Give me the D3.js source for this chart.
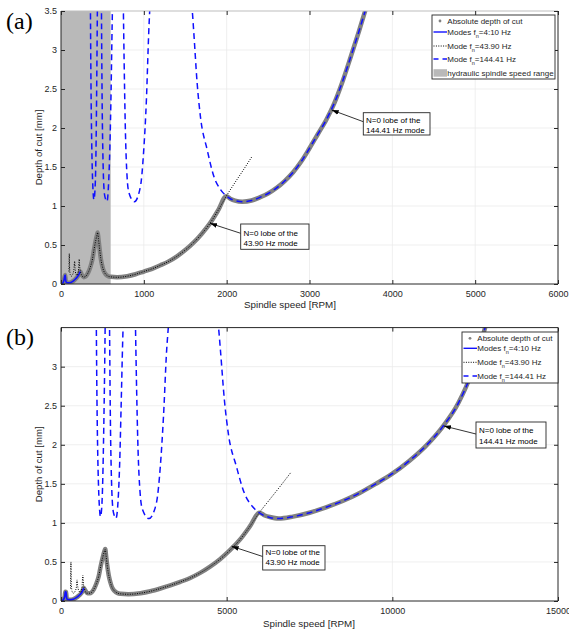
<!DOCTYPE html>
<html><head><meta charset="utf-8">
<script src="https://cdn.jsdelivr.net/npm/d3@7"></script>
<style>
body{margin:0;background:#fff}
svg{display:block}
text{font-family:"Liberation Sans",Arial,Helvetica,sans-serif}
</style>
</head><body>
<svg id="c" width="569" height="629"></svg>
<script>
// ---------------- DATA (spindle speed [RPM], depth of cut [mm]) ----------------
const yTicksA = [0,0.5,1,1.5,2,2.5,3,3.5];
const yTicksB = [0,0.5,1,1.5,2,2.5,3];
const xTicksA = [0,1000,2000,3000,4000,5000,6000];
const xTicksB = [0,5000,10000,15000];
const hydraulicRange = [0,600];
const legendLabels = ["Absolute depth of cut","Modes f|n|=4:10 Hz","Mode f|n|=43.90 Hz","Mode f|n|=144.41 Hz","hydraulic spindle speed range"];
const noteA = ["N=0 lobe of the","43.90 Hz mode"];
const noteB = ["N=0 lobe of the","144.41 Hz mode"];

// Panel (a)
const absA = [[0,0],[20,0.01],[38,0.06],[45,0.1],[50,0.115],[56,0.05],[65,0.02],[90,0.015],[120,0.02],[150,0.04],[180,0.07],[210,0.11],[233,0.16],[250,0.12],[273,0.088],[300,0.1],[330,0.15],[355,0.22],[380,0.32],[400,0.45],[420,0.56],[435,0.63],[443,0.66],[452,0.58],[467,0.44],[480,0.33],[496,0.24],[515,0.17],[536,0.13],[570,0.1],[600,0.092],[677,0.086],[800,0.1],[900,0.125],[1000,0.16],[1100,0.195],[1200,0.24],[1300,0.29],[1400,0.355],[1500,0.435],[1600,0.53],[1700,0.645],[1800,0.78],[1900,0.95],[1995,1.125],[2050,1.09],[2100,1.07],[2189,1.055],[2300,1.07],[2400,1.11],[2500,1.16],[2600,1.23],[2700,1.32],[2800,1.43],[2900,1.57],[3000,1.74],[3100,1.92],[3200,2.1],[3300,2.32],[3400,2.6],[3500,2.92],[3600,3.25],[3700,3.6]];
const bluA = [[0,0],[20,0.01],[38,0.06],[45,0.1],[50,0.115],[56,0.05],[65,0.02],[90,0.015],[120,0.02],[150,0.04],[180,0.07],[210,0.11],[233,0.16]];
const dotA = [[96,0.16],[100,0.39],[104,0.2],[112,0.12],[125,0.1],[140,0.12],[155,0.18],[165,0.29],[170,0.2],[180,0.13],[195,0.11],[210,0.16],[220,0.32],[226,0.22],[240,0.14],[255,0.1],[273,0.088],[300,0.1],[330,0.15],[355,0.22],[380,0.32],[400,0.45],[420,0.56],[435,0.63],[443,0.66],[452,0.58],[467,0.44],[480,0.33],[496,0.24],[515,0.17],[536,0.13],[570,0.1],[600,0.092],[677,0.086],[800,0.1],[900,0.125],[1000,0.16],[1100,0.195],[1200,0.24],[1300,0.29],[1400,0.355],[1500,0.435],[1600,0.53],[1700,0.645],[1800,0.78],[1900,0.95],[1995,1.125],[2100,1.3],[2200,1.46],[2309,1.64]];
const lobesA = [
  [[355,3.6],[360,2.8],[368,2.0],[378,1.45],[388,1.17],[397,1.08],[410,1.2],[420,1.55],[428,2.2],[434,2.9],[440,3.6]],
  [[488,3.6],[493,2.8],[498,2.2],[505,1.7],[515,1.3],[530,1.12],[556,1.06],[575,1.3],[590,1.75],[605,2.5],[617,3.3],[622,3.6]],
  [[752,3.6],[757,3.22],[778,1.94],[798,1.37],[820,1.17],[886,1.055],[959,1.25],[999,1.72],[1031,2.36],[1059,3.22],[1071,3.51],[1075,3.6]],
  [[1575,3.6],[1584,3.51],[1604,3.21],[1644,2.57],[1684,2.14],[1765,1.72],[1845,1.38],[1926,1.21],[1995,1.13],[2050,1.09],[2100,1.07],[2189,1.055],[2300,1.07],[2400,1.11],[2500,1.16],[2600,1.23],[2700,1.32],[2800,1.43],[2900,1.57],[3000,1.74],[3100,1.92],[3200,2.1],[3300,2.32],[3400,2.6],[3500,2.92],[3600,3.25],[3700,3.6]]
];

// Panel (b)
const absB = [[0,0],[60,0.01],[114,0.06],[130,0.12],[150,0.115],[160,0.08],[170,0.04],[190,0.02],[270,0.015],[360,0.02],[450,0.04],[540,0.07],[630,0.11],[690,0.165],[740,0.13],[800,0.1],[870,0.1],[990,0.15],[1065,0.22],[1140,0.32],[1200,0.45],[1260,0.56],[1305,0.63],[1335,0.665],[1360,0.58],[1400,0.44],[1440,0.33],[1490,0.24],[1545,0.17],[1610,0.13],[1710,0.1],[1800,0.092],[2030,0.086],[2400,0.1],[2700,0.125],[3000,0.16],[3300,0.2],[3600,0.245],[3900,0.295],[4200,0.36],[4500,0.44],[4800,0.535],[5100,0.65],[5400,0.785],[5700,0.955],[5985,1.13],[6150,1.095],[6300,1.075],[6567,1.055],[7000,1.08],[7500,1.13],[8000,1.2],[8500,1.28],[9000,1.38],[9500,1.5],[10000,1.63],[10500,1.79],[11000,1.98],[11500,2.22],[12000,2.54],[12400,2.93],[12600,3.2],[12800,3.5],[12900,3.65]];
const bluB = [[0,0],[60,0.01],[114,0.06],[130,0.12],[150,0.115],[160,0.08],[170,0.04],[190,0.02],[270,0.015],[360,0.02],[450,0.04],[540,0.07],[630,0.11],[690,0.165]];
const dotB = [[288,0.16],[300,0.5],[312,0.22],[336,0.12],[375,0.1],[420,0.12],[465,0.18],[484,0.27],[500,0.2],[540,0.13],[585,0.11],[630,0.16],[660,0.33],[678,0.22],[720,0.14],[765,0.1],[800,0.1],[870,0.1],[990,0.15],[1065,0.22],[1140,0.32],[1200,0.45],[1260,0.56],[1305,0.63],[1335,0.665],[1360,0.58],[1400,0.44],[1440,0.33],[1490,0.24],[1545,0.17],[1610,0.13],[1710,0.1],[1800,0.092],[2030,0.086],[2400,0.1],[2700,0.125],[3000,0.16],[3300,0.2],[3600,0.245],[3900,0.295],[4200,0.36],[4500,0.44],[4800,0.535],[5100,0.65],[5400,0.785],[5700,0.955],[5985,1.13],[6300,1.3],[6600,1.46],[6927,1.64]];
const lobesB = [
  [[1065,3.6],[1080,2.8],[1104,2.0],[1134,1.45],[1164,1.17],[1191,1.08],[1230,1.2],[1260,1.55],[1290,2.2],[1315,2.9],[1335,3.6]],
  [[1464,3.6],[1479,2.8],[1494,2.2],[1515,1.7],[1545,1.3],[1590,1.12],[1660,1.06],[1725,1.3],[1770,1.75],[1815,2.5],[1860,3.3],[1880,3.6]],
  [[2245,3.6],[2260,3.22],[2325,1.94],[2390,1.37],[2460,1.17],[2655,1.055],[2877,1.25],[2997,1.72],[3093,2.36],[3190,3.22],[3240,3.51],[3255,3.6]],
  [[4725,3.6],[4752,3.51],[4812,3.21],[4932,2.57],[5052,2.14],[5295,1.72],[5535,1.38],[5778,1.21],[5985,1.13],[6150,1.09],[6300,1.07],[6567,1.055],[7000,1.08],[7500,1.13],[8000,1.2],[8500,1.28],[9000,1.38],[9500,1.5],[10000,1.63],[10500,1.79],[11000,1.98],[11500,2.22],[12000,2.54],[12400,2.93],[12600,3.2],[12800,3.5],[12900,3.65]]
];

// ---------------- DRAWING ----------------
const svg = d3.select('#c');
const defs = svg.append('defs');
defs.append('marker').attr('id','arr').attr('viewBox','0 0 10 10').attr('refX',10).attr('refY',5)
  .attr('markerWidth',7).attr('markerHeight',7).attr('markerUnits','userSpaceOnUse').attr('orient','auto')
  .append('path').attr('d','M0,1.5 L10,5 L0,8.5 Z').attr('fill','#000');

const BLUE = '#1010ff';
const TXT = '#262626';

const panels = [
  {id:'a', letter:'(a)', letterY:29, left:61, right:558, top:11, bottom:284, xMax:6000, xTicks:xTicksA, yTicks:yTicksA,
   abs:absA, blu:bluA, dot:dotA, lobes:lobesA, band:hydraulicRange, topBorder:'#bdbdbd',
   legend:{x:432, y:15, w:123, h:64, rows:[21,32,46,59,73], n:5},
   note:{lines:noteA, box:[240.7,224,68.3,25.3], tx:243.5, ty:[235.5,245.5], from:[240.7,233.3], to:[210,223.3]},
   note2:{lines:noteB, box:[363.3,112.7,66.7,22.3], tx:366, ty:[123.3,132.8], from:[363.3,121.7], to:[331.7,110]},
   xlabX:290, xlabY:307.5},
  {id:'b', letter:'(b)', letterY:345, left:61, right:558, top:327.6, bottom:601, xMax:15000, xTicks:xTicksB, yTicks:yTicksB,
   abs:absB, blu:bluB, dot:dotB, lobes:lobesB, band:null, topBorder:TXT,
   legend:{x:462, y:332, w:96, h:51, rows:[338.3,348.3,362.3,376], n:4},
   note:{lines:noteA, box:[262.7,545.7,62.3,24.3], tx:265.5, ty:[555,565.3], from:[262.7,556.5], to:[231.7,546.3]},
   note2:{lines:noteB, box:[476,422,70,26], tx:479, ty:[432.5,443.5], from:[476,434], to:[444,426]},
   xlabX:309, xlabY:626.5}
];

panels.forEach(p => {
  const g = svg.append('g');
  const x = d3.scaleLinear().domain([0,p.xMax]).range([p.left,p.right]);
  const y = d3.scaleLinear().domain([0,3.5]).range([p.bottom,p.top]);

  defs.append('clipPath').attr('id','clip'+p.id).append('rect')
    .attr('x',p.left).attr('y',p.top).attr('width',p.right-p.left).attr('height',p.bottom-p.top);

  // grid
  g.append('g').selectAll('line').data(p.xTicks.filter(v=>v>0 && v<p.xMax)).join('line')
    .attr('x1',d=>x(d)).attr('x2',d=>x(d)).attr('y1',p.top).attr('y2',p.bottom)
    .attr('stroke','#ebebeb').attr('stroke-width',0.8);
  g.append('g').selectAll('line').data(p.yTicks.filter(v=>v>0 && v<3.5)).join('line')
    .attr('x1',p.left).attr('x2',p.right).attr('y1',d=>y(d)).attr('y2',d=>y(d))
    .attr('stroke','#ebebeb').attr('stroke-width',0.8);

  const plot = g.append('g').attr('clip-path',`url(#clip${p.id})`);
  if (p.band) {
    plot.append('rect').attr('x',x(p.band[0])).attr('width',x(p.band[1])-x(p.band[0]))
      .attr('y',p.top).attr('height',p.bottom-p.top).attr('fill','#b9b9b9');
  }
  const line = d3.line().x(d=>x(d[0])).y(d=>y(d[1])).curve(d3.curveMonotoneX);
  plot.append('path').attr('d',line(p.abs)).attr('fill','none').attr('stroke','#818181')
    .attr('stroke-width',4.5).attr('stroke-linejoin','round').attr('stroke-linecap','round');
  plot.append('path').attr('d',line(p.blu)).attr('fill','none').attr('stroke',BLUE).attr('stroke-width',1.7);
  plot.append('path').attr('d',line(p.dot)).attr('fill','none').attr('stroke','#000')
    .attr('stroke-width',1).attr('stroke-dasharray','1,1.4');
  p.lobes.forEach(l => {
    plot.append('path').attr('d',line(l)).attr('fill','none').attr('stroke',BLUE)
      .attr('stroke-width',1.5).attr('stroke-dasharray','6,4');
  });

  // border
  g.append('line').attr('x1',p.left).attr('x2',p.right).attr('y1',p.top).attr('y2',p.top)
    .attr('stroke',p.topBorder).attr('stroke-width',1);
  g.append('path').attr('d',`M${p.right},${p.top}V${p.bottom}H${p.left}V${p.top}`)
    .attr('fill','none').attr('stroke',TXT).attr('stroke-width',1);

  // axes
  const fmt = d => String(d);
  const ax = g.append('g').attr('transform',`translate(0,${p.bottom})`)
    .call(d3.axisBottom(x).tickValues(p.xTicks).tickSize(-4).tickSizeOuter(0).tickPadding(6.5).tickFormat(fmt));
  const ay = g.append('g').attr('transform',`translate(${p.left},0)`)
    .call(d3.axisLeft(y).tickValues(p.yTicks).tickSize(-4).tickSizeOuter(0).tickPadding(4).tickFormat(fmt));
  const at = g.append('g').attr('transform',`translate(0,${p.top})`)
    .call(d3.axisTop(x).tickValues(p.xTicks).tickSize(-4).tickSizeOuter(0).tickFormat(''));
  const ar = g.append('g').attr('transform',`translate(${p.right},0)`)
    .call(d3.axisRight(y).tickValues(p.yTicks).tickSize(-4).tickSizeOuter(0).tickFormat(''));
  [ax,ay,at,ar].forEach(a => {
    a.select('.domain').remove();
    a.selectAll('line').attr('stroke',TXT);
    a.selectAll('text').attr('fill',TXT).style('font-size','9px').style('font-family','"Liberation Sans",Arial,sans-serif');
  });

  // axis labels
  g.append('text').attr('x',p.xlabX).attr('y',p.xlabY).attr('text-anchor','middle')
    .attr('fill',TXT).style('font-size','9.8px').text('Spindle speed [RPM]');
  g.append('text').attr('transform',`translate(41.5,${(p.top+p.bottom)/2}) rotate(-90)`).attr('text-anchor','middle')
    .attr('fill',TXT).style('font-size','9.6px').text('Depth of cut [mm]');
  g.append('text').attr('x',6).attr('y',p.letterY).style('font-family','"Liberation Serif","Times New Roman",serif')
    .style('font-size','24px').attr('fill','#000').text(p.letter);

  // legend
  const L = p.legend;
  const lg = g.append('g');
  lg.append('rect').attr('x',L.x).attr('y',L.y).attr('width',L.w).attr('height',L.h)
    .attr('fill','#fff').attr('stroke',TXT).attr('stroke-width',0.9);
  const sx0 = L.x + 1.5, sx1 = L.x + 15, tx = L.x + 15.3;
  for (let i=0;i<L.n;i++) {
    const ry = L.rows[i];
    if (i===0) lg.append('circle').attr('cx',L.x+8).attr('cy',ry).attr('r',1.4).attr('fill','#818181');
    if (i===1) lg.append('line').attr('x1',sx0).attr('x2',sx1).attr('y1',ry).attr('y2',ry).attr('stroke',BLUE).attr('stroke-width',1.4);
    if (i===2) lg.append('line').attr('x1',sx0).attr('x2',sx1).attr('y1',ry).attr('y2',ry).attr('stroke','#000').attr('stroke-width',1).attr('stroke-dasharray','1,1.4');
    if (i===3) lg.append('line').attr('x1',sx0).attr('x2',sx1).attr('y1',ry).attr('y2',ry).attr('stroke',BLUE).attr('stroke-width',1.4).attr('stroke-dasharray','5,4');
    if (i===4) lg.append('rect').attr('x',sx0).attr('y',ry-3.8).attr('width',sx1-sx0).attr('height',7.5).attr('fill','#b9b9b9');
    const parts = legendLabels[i].split('|');
    const t = lg.append('text').attr('x',tx).attr('y',ry+2.8).attr('fill',TXT).style('font-size','8px');
    t.append('tspan').text(parts[0]);
    if (parts.length>1) {
      t.append('tspan').attr('dy',2.8).style('font-size','5.5px').text(parts[1]);
      t.append('tspan').attr('dy',-2.8).style('font-size','8px').text(parts[2]);
    }
  }

  // annotations
  [p.note, p.note2].forEach(n => {
    g.append('line').attr('x1',n.from[0]).attr('y1',n.from[1]).attr('x2',n.to[0]).attr('y2',n.to[1])
      .attr('stroke','#000').attr('stroke-width',0.8).attr('marker-end','url(#arr)');
    g.append('rect').attr('x',n.box[0]).attr('y',n.box[1]).attr('width',n.box[2]).attr('height',n.box[3])
      .attr('fill','#fff').attr('stroke',TXT).attr('stroke-width',0.9);
    n.lines.forEach((s,k) => g.append('text').attr('x',n.tx).attr('y',n.ty[k]).attr('fill','#000')
      .style('font-size','8px').text(s));
  });
});
</script>
</body></html>
